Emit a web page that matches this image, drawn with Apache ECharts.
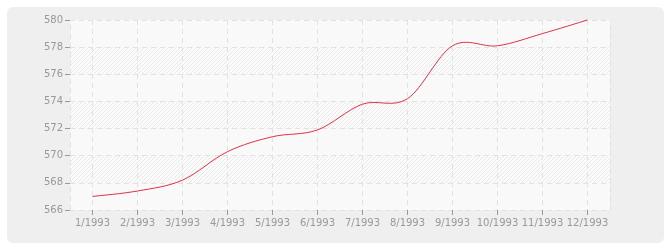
<!DOCTYPE html>
<html><head><meta charset="utf-8">
<script src="https://cdn.jsdelivr.net/npm/echarts@6/dist/echarts.min.js"></script>
<style>html,body{margin:0;padding:0;background:#fff;}#c{width:670px;height:250px;}</style>
</head><body><div id="c"></div>
<script>
const categories = ['1/1993','2/1993','3/1993','4/1993','5/1993','6/1993','7/1993','8/1993','9/1993','10/1993','11/1993','12/1993'];
const values = [567.0, 567.4, 568.2, 570.3, 571.4, 571.9, 573.8, 574.2, 578.1, 578.1, 579.0, 580.0];
const yMin = 566, yMax = 580, yStep = 2;

function hatch() {
  const c = document.createElement('canvas');
  c.width = 4; c.height = 4;
  const g = c.getContext('2d');
  g.fillStyle = '#fbfbfb'; g.fillRect(0,0,4,4);
  g.strokeStyle = '#e9e9e9'; g.lineWidth = 1;
  g.beginPath(); g.moveTo(0,4); g.lineTo(4,0); g.moveTo(-1,1); g.lineTo(1,-1); g.moveTo(3,5); g.lineTo(5,3); g.stroke();
  return {image: c, repeat: 'repeat'};
}
const chart = echarts.init(document.getElementById('c'), null, {renderer: 'canvas'});
const labelStyle = {color: '#999', fontFamily: 'DejaVu Sans', fontSize: 10};
const n = values.length;
chart.setOption({
  animation: false,
  graphic: [{type: 'rect', z: -10, shape: {x: 7, y: 7, width: 657, height: 236, r: 6}, style: {fill: '#efefef'}}],
  grid: {left: 70, right: 60, top: 20, bottom: 40, show: false},
  xAxis: {
    type: 'category', data: categories, boundaryGap: true,
    axisLine: {show: false},
    axisTick: {show: true, alignWithLabel: true, interval: 0, length: 5, lineStyle: {color: '#999'}},
    axisLabel: Object.assign({margin: 8, interval: 0}, labelStyle),
    splitLine: {show: true, alignWithLabel: true, interval: 0, lineStyle: {color: '#e2e2e2', type: [5, 4]}}
  },
  yAxis: [{
    type: 'value', min: yMin, max: yMax, interval: yStep,
    axisLine: {show: true, lineStyle: {color: '#e2e2e2', type: [5, 4]}},
    axisTick: {show: true, length: 5, lineStyle: {color: '#999'}},
    axisLabel: Object.assign({margin: 7}, labelStyle),
    splitLine: {show: true, lineStyle: {color: '#e2e2e2', type: [5, 4]}},
    splitArea: {show: true, areaStyle: {color: ['#f9f9f9', hatch()]}}
  }, {
    type: 'value', min: yMin, max: yMax, interval: yStep, position: 'right',
    axisLine: {show: true, lineStyle: {color: '#e2e2e2', type: [5, 4]}},
    axisTick: {show: false}, axisLabel: {show: false}, splitLine: {show: false}
  }],
  series: [{
    type: 'custom',
    data: values.map((v, i) => [i, v]),
    renderItem: function (params, api) {
      const i = params.dataIndex;
      if (i >= n - 1) return null;
      const p = k => api.coord([Math.max(0, Math.min(n - 1, k)), values[Math.max(0, Math.min(n - 1, k))]]);
      const p0 = p(i - 1), p1 = p(i), p2 = p(i + 1), p3 = p(i + 2);
      const t = 1 / 6;
      return {
        type: 'bezierCurve',
        shape: {
          x1: p1[0], y1: p1[1], x2: p2[0], y2: p2[1],
          cpx1: p1[0] + (p2[0] - p0[0]) * t, cpy1: p1[1] + (p2[1] - p0[1]) * t,
          cpx2: p2[0] - (p3[0] - p1[0]) * t, cpy2: p2[1] - (p3[1] - p1[1]) * t
        },
        style: {fill: null, stroke: '#dd3344', lineWidth: 1}
      };
    }
  }]
});
</script></body></html>
